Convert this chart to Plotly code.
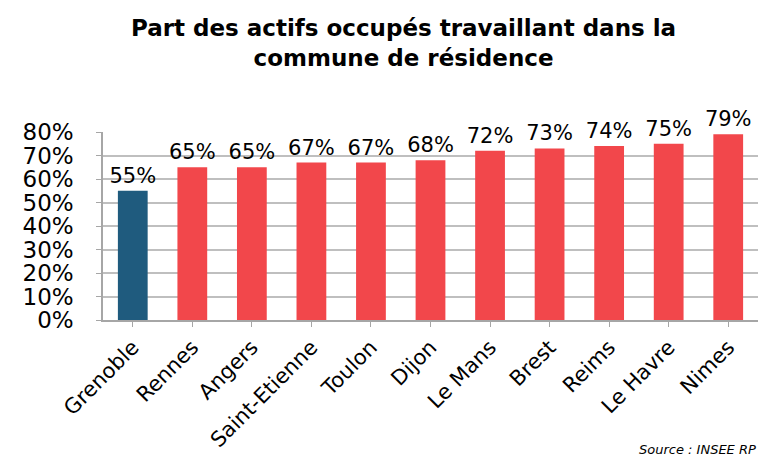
import plotly.graph_objects as go

categories = ["Grenoble", "Rennes", "Angers", "Saint-Etienne", "Toulon", "Dijon",
              "Le Mans", "Brest", "Reims", "Le Havre", "Nimes"]
values = [55, 65, 65, 67, 67, 68, 72, 73, 74, 75, 79]
colors = ["#1F5B7E"] + ["#F2474B"] * 10
labels = [f"{v}%" for v in values]
tick_vals = [0, 10, 20, 30, 40, 50, 60, 70, 80]
tick_text = [f"{v}%" for v in tick_vals]

fig = go.Figure(go.Bar(
    x=categories, y=values, marker=dict(color=colors, line=dict(width=0)),
    text=labels, textposition="outside", cliponaxis=False, constraintext="none",
    textfont=dict(family="DejaVu Sans", size=21, color="black"),
    width=0.5,
))

fig.update_layout(
    width=768, height=460,
    margin=dict(l=95, r=18, t=124, b=148),
    paper_bgcolor="white", plot_bgcolor="white",
    title=dict(text="<b>Part des actifs occupés travaillant dans la<br>commune de résidence</b>",
               x=0.515, xanchor="center", y=0.94, yanchor="middle",
               font=dict(family="DejaVu Sans", size=23, color="black")),
    showlegend=False,
    font=dict(family="DejaVu Sans", color="black"),
)
fig.update_yaxes(range=[0, 80], tickvals=tick_vals, ticktext=tick_text,
                 tickfont=dict(size=23, color="black"),
                 showgrid=True, gridcolor="#BFBFBF", gridwidth=1.5,
                 showline=True, linecolor="#A6A6A6", linewidth=1.5,
                 ticks="outside", tickcolor="#A6A6A6", ticklen=5,
                 ticklabelstandoff=18, zeroline=False)
fig.update_xaxes(tickangle=-45, tickfont=dict(size=21, color="black"),
                 showline=True, linecolor="#A6A6A6", linewidth=1.5,
                 ticks="outside", tickcolor="#A6A6A6", ticklen=5)

fig.add_annotation(text="<i>Source : INSEE RP</i>", xref="paper", yref="paper",
                   x=1.0, y=-0.64, xanchor="right", yanchor="top", showarrow=False,
                   font=dict(family="DejaVu Sans", size=13, color="black"))

fig.write_html("out.html")
